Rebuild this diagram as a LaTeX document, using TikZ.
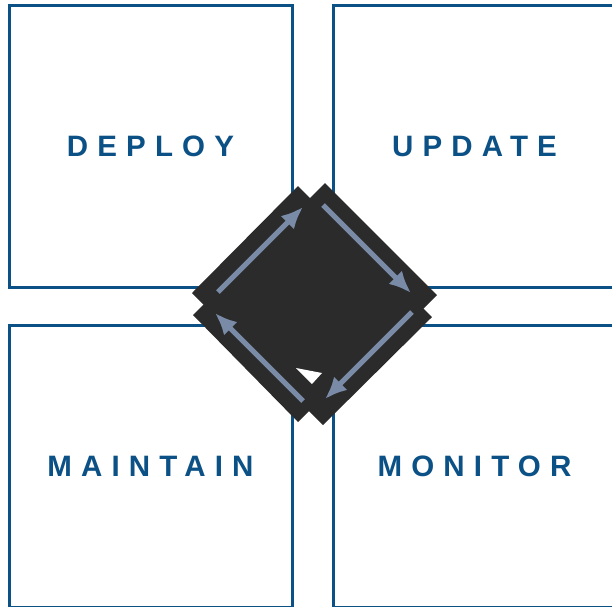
\documentclass[tikz,border=0pt]{standalone}
\usepackage{fontspec}
\setmainfont{Liberation Sans}
\usetikzlibrary{arrows.meta}
\definecolor{phaseblue}{HTML}{0B5186}
\definecolor{cycledark}{HTML}{2B2B2B}
\definecolor{cyclearrow}{HTML}{7A8BA7}
\newfontfamily\phasefont[LetterSpace=31]{Liberation Sans Bold}

\begin{document}
\begin{tikzpicture}[x=1pt, y=-1pt,
              phase/.style = {draw=phaseblue, line width=3pt, fill=white,
                minimum width=283pt, minimum height=282pt, inner sep=0pt,
                text=phaseblue, font=\phasefont\fontsize{29.5}{34}\selectfont},
              strip/.style = {fill=cycledark},
              cyc/.style = {draw=cyclearrow, line width=5pt,
                -{Latex[length=22pt, width=19pt]}}]
  \useasboundingbox (0,0) rectangle (612,606);
  \clip (0,0) rectangle (612,606);
  % the four phases
  \node[phase] (deploy)   at (150.5,146) {DEPLOY};
  \node[phase] (update)   at (474.5,146) {UPDATE};
  \node[phase] (maintain) at (150.5,466) {MAINTAIN};
  \node[phase] (monitor)  at (474.5,466) {MONITOR};
  % dark strips round the cycle
  \fill[strip] (192,293) -- (298,186) -- (368,256) -- (262,363) -- cycle;
  \fill[strip] (325,183) -- (437,295) -- (367,365) -- (255,253) -- cycle;
  \fill[strip] (432,317) -- (323,425) -- (253,355) -- (362,247) -- cycle;
  \fill[strip] (298,422) -- (193,315) -- (263,245) -- (368,352) -- cycle;
  \fill[white] (296,368) -- (322,373) -- (312,384) -- cycle;
  % arrow ends
  \coordinate (a1s) at (218,292); \coordinate (a1e) at (303,207);
  \coordinate (a2s) at (323,205); \coordinate (a2e) at (411,293);
  \coordinate (a3s) at (412,312); \coordinate (a3e) at (325,399);
  \coordinate (a4s) at (303,401); \coordinate (a4e) at (215,313);
  \draw[cyc] (a1s) -- (a1e);
  \draw[cyc] (a2s) -- (a2e);
  \draw[cyc] (a3s) -- (a3e);
  \draw[cyc] (a4s) -- (a4e);
\end{tikzpicture}
\end{document}
